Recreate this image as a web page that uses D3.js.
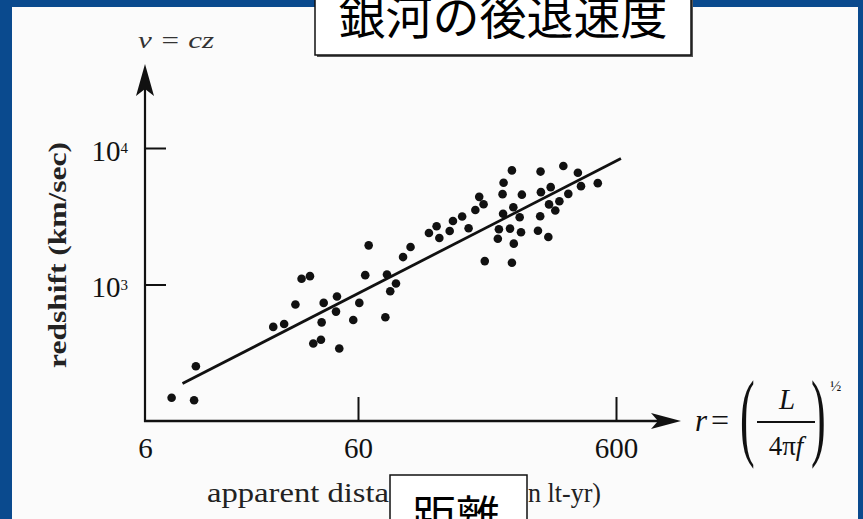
<!DOCTYPE html>
<html><head><meta charset="utf-8">
<script src="https://cdn.jsdelivr.net/npm/d3@7"></script>
<style>html,body{margin:0;padding:0;background:#0a4a8e;overflow:hidden}</style>
</head><body>
<svg id="c" width="863" height="519"></svg>
<script>
// ---- data ----
const distance = [8.0, 10.2, 10.4, 24.0, 27.0, 32.6, 35.7, 30.5, 37.0, 40.2, 40.5, 41.4, 47.8, 47.3, 49.0, 57.0,
  60.7, 64.0, 66.0, 76.6, 77.7, 80.0, 84.2, 89.7, 95.9, 113, 121, 124, 136, 140, 152, 161, 171, 177, 184, 186,
  209, 211, 219, 218, 220, 237, 233, 240, 241, 237, 254, 257, 259, 299, 305, 307, 306, 328, 330, 335, 349, 362,
  375, 392, 427, 439, 510];
const redshift = [148, 142, 252, 489, 514, 1101, 1151, 713, 370, 394, 528, 733, 816, 633, 340, 550,
  733, 1171, 1936, 575, 1184, 893, 1017, 1588, 1881, 2384, 2670, 2190, 2466, 2920, 3146, 2581, 3518, 4385, 3875, 1484,
  2161, 2537, 3298, 4590, 5558, 6855, 2568, 3683, 1992, 1443, 3109, 2412, 4551, 2474, 3162, 4748, 6718, 2227, 3862, 5168, 3483, 4076,
  7374, 4613, 6584, 5255, 5529];
const fitDistance = [9.0, 627];
const fitRedshift = [188, 8370];
const xTicks = [6, 60, 600];
const xTickLabels = ["6", "60", "600"];
const yTicks = [1e3, 1e4];
const yTickExps = ["3", "4"];
const yAxisMin = 100;
const title = "銀河の後退速度";
const boxLabel = "距離";
const xLabelParts = ["apparent dista", "nce (i", "n lt-yr)"];
const yLabel = "redshift (km/sec)";
const yTopLabel = "v = cz";

// ---- drawing ----
const W = 863, H = 519;
const serif = "'Liberation Serif','DejaVu Serif',serif";
const cjk = "'Noto Sans CJK JP','Noto Sans CJK SC',sans-serif";
const ink = "#111";
const svg = d3.select("#c");

svg.append("rect").attr("width", W).attr("height", H).attr("fill", "#0a4a8e");
svg.append("rect").attr("x", 12).attr("y", 7).attr("width", 846).attr("height", 512).attr("fill", "#fbfbfb");

const x = d3.scaleLog().domain(xTicks).range([145, 358, 616]);
const y = d3.scaleLog().domain([yAxisMin, 1e4]).range([421, 148]);

const x0 = x(xTicks[0]), yb = y(yAxisMin);

// axis lines with arrows
const g = svg.append("g");
g.append("line").attr("x1", x0).attr("x2", x0).attr("y1", yb + 1).attr("y2", 80)
  .attr("stroke", ink).attr("stroke-width", 2.2);
g.append("line").attr("x1", x0 - 1).attr("x2", 665).attr("y1", yb).attr("y2", yb)
  .attr("stroke", ink).attr("stroke-width", 2.4);
g.append("path").attr("d", `M${x0},64 L${x0 + 9},96 L${x0},89 L${x0 - 9},96 Z`).attr("fill", ink);
g.append("path").attr("d", `M681,${yb} L651,${yb - 8} L658,${yb} L651,${yb + 8} Z`).attr("fill", ink);

// x axis ticks
const xa = svg.append("g").attr("transform", `translate(0,${yb})`)
  .call(d3.axisBottom(x).tickValues(xTicks).tickSize(-24).tickPadding(16)
    .tickFormat((d, i) => xTickLabels[i]));
xa.select(".domain").remove();
xa.selectAll(".tick line").attr("stroke", ink).attr("stroke-width", 2)
  .style("display", d => d === xTicks[0] ? "none" : null);
xa.selectAll(".tick text").attr("font-family", serif).attr("font-size", 29).attr("fill", ink);

// y axis ticks
const ya = svg.append("g").attr("transform", `translate(${x0},0)`)
  .call(d3.axisLeft(y).tickValues(yTicks).tickSize(-21).tickPadding(17).tickFormat(() => ""));
ya.select(".domain").remove();
ya.selectAll(".tick line").attr("stroke", ink).attr("stroke-width", 2);
ya.selectAll(".tick text").attr("font-family", serif).attr("font-size", 29).attr("fill", ink)
  .attr("dy", "0.42em")
  .each(function (d, i) {
    const t = d3.select(this);
    t.append("tspan").text("10");
    t.append("tspan").attr("dy", "-0.5em").attr("font-size", 15).text(yTickExps[i]);
  });

// regression line
svg.append("path")
  .datum(fitDistance.map((d, i) => [d, fitRedshift[i]]))
  .attr("d", d3.line().x(d => x(d[0])).y(d => y(d[1])))
  .attr("stroke", ink).attr("stroke-width", 2.8).attr("fill", "none");

// points
svg.append("g").selectAll("circle")
  .data(distance.map((d, i) => [d, redshift[i]]))
  .join("circle")
  .attr("cx", d => x(d[0])).attr("cy", d => y(d[1])).attr("r", 4.3).attr("fill", ink);

// labels
svg.append("text").attr("x", 138).attr("y", 48).attr("font-family", serif).attr("font-style", "italic")
  .attr("font-size", 24).attr("textLength", 76).attr("lengthAdjust", "spacingAndGlyphs")
  .attr("fill", "#333").text(yTopLabel);

svg.append("text").attr("transform", "translate(66,255) rotate(-90)").attr("text-anchor", "middle")
  .attr("font-family", serif).attr("font-weight", "bold").attr("font-size", 26)
  .attr("textLength", 226).attr("lengthAdjust", "spacingAndGlyphs").attr("fill", "#222").text(yLabel);

const xl = svg.append("text").attr("y", 502).attr("font-family", serif).attr("font-size", 28).attr("fill", "#222");
xl.append("tspan").attr("x", 207).attr("textLength", 182).attr("lengthAdjust", "spacingAndGlyphs").text(xLabelParts[0]);
xl.append("tspan").attr("x", 392).text(xLabelParts[1]);
xl.append("tspan").attr("x", 528).attr("textLength", 73).attr("lengthAdjust", "spacingAndGlyphs").text(xLabelParts[2]);

// formula r = (L / 4πf)^½
const f = svg.append("g").attr("font-family", serif).attr("fill", ink);
f.append("text").attr("x", 695).attr("y", 431).attr("font-size", 31).attr("font-style", "italic").text("r");
f.append("text").attr("x", 711).attr("y", 431).attr("font-size", 32).text("=");
f.append("text").attr("transform", "translate(740,448) scale(0.45,1)").attr("font-size", 98).text("(");
f.append("text").attr("transform", "translate(811,448) scale(0.45,1)").attr("font-size", 98).text(")");
f.append("line").attr("x1", 757).attr("x2", 815).attr("y1", yb + 1).attr("y2", yb + 1).attr("stroke", ink).attr("stroke-width", 2);
f.append("text").attr("x", 787).attr("y", 409).attr("text-anchor", "middle").attr("font-size", 29)
  .attr("font-style", "italic").text("L");
f.append("text").attr("x", 786).attr("y", 455).attr("text-anchor", "middle").attr("font-size", 27)
  .html('4π<tspan font-style="italic">f</tspan>');
f.append("text").attr("x", 830).attr("y", 391).attr("font-size", 15).text("½");

// title box
svg.append("rect").attr("x", 317).attr("y", -6).attr("width", 376).attr("height", 63).attr("fill", "#555");
svg.append("rect").attr("x", 315).attr("y", -8).attr("width", 376).attr("height", 63)
  .attr("fill", "#fff").attr("stroke", ink).attr("stroke-width", 1.5);
svg.append("text").attr("x", 503).attr("y", 34).attr("text-anchor", "middle").attr("font-family", cjk)
  .attr("font-size", 47).attr("fill", "#000").text(title);

// bottom box
svg.append("rect").attr("x", 390).attr("y", 475).attr("width", 137).attr("height", 60)
  .attr("fill", "#fff").attr("stroke", ink).attr("stroke-width", 1.5);
svg.append("text").attr("x", 456).attr("y", 533).attr("text-anchor", "middle").attr("font-family", cjk)
  .attr("font-size", 44).attr("fill", "#000").text(boxLabel);
</script>
</body></html>
